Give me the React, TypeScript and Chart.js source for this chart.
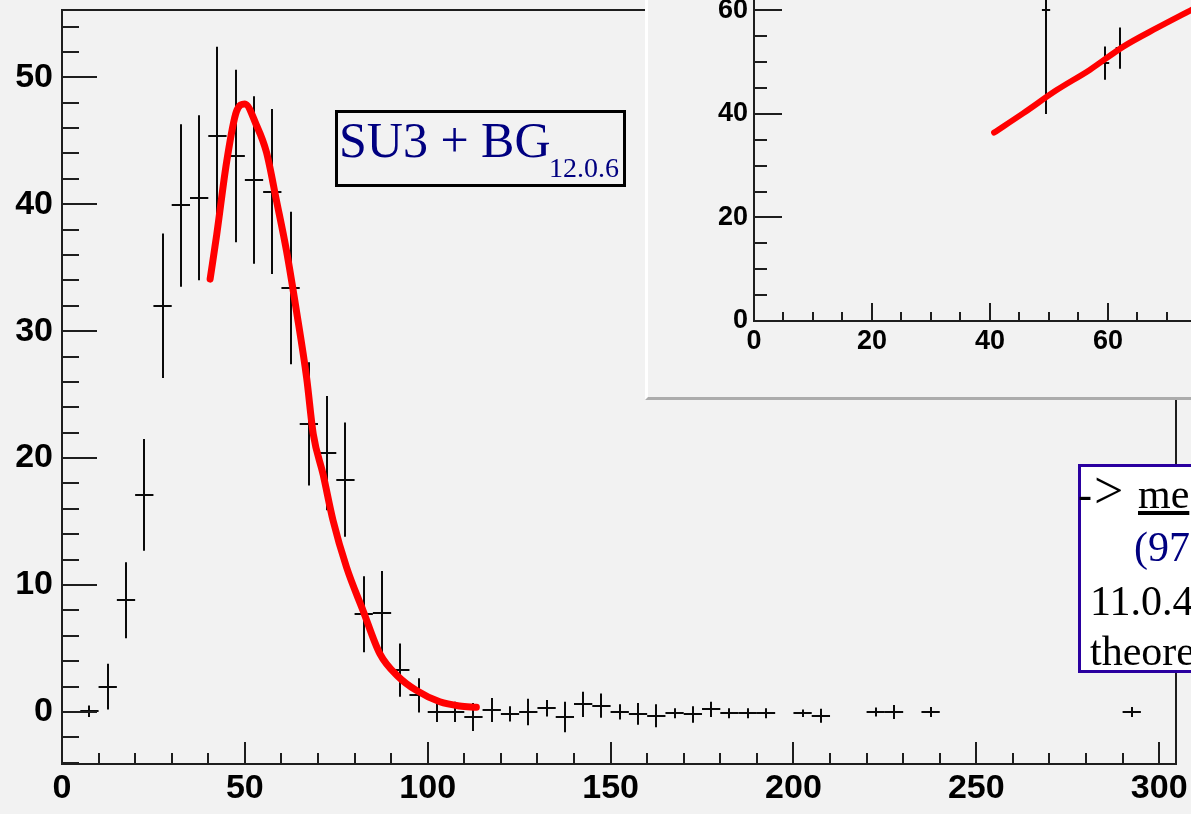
import React, { useEffect, useRef } from "react";
import { Chart, registerables } from "chart.js";

Chart.register(...registerables);

// ---------------- Main histogram data ----------------
const mainBinCenters = [
  7.5, 12.5, 17.5, 22.5, 27.5, 32.5, 37.5, 42.5, 47.5, 52.5, 57.5, 62.5, 67.5, 72.5, 77.5, 82.5, 87.5, 92.5, 97.5,
  102.5, 107.5, 112.5, 117.5, 122.5, 127.5, 132.5, 137.5, 142.5, 147.5, 152.5, 157.5, 162.5, 167.5, 172.5, 177.5,
  182.5, 187.5, 192.5, 202.5, 207.5, 222.5, 227.5, 237.5, 292.5,
];
const mainCounts = [
  0.05, 2.0, 8.8, 17.1, 32.0, 39.9, 40.5, 45.4, 43.8, 41.9, 41.0, 33.4, 22.7, 20.4, 18.3, 7.7, 7.8, 3.3, 1.3,
  0, 0, -0.4, 0.15, -0.15, 0, 0.3, -0.4, 0.6, 0.5, 0, -0.15, -0.3, -0.1, -0.2, 0.2,
  -0.1, -0.1, -0.1, -0.1, -0.3, 0, 0, 0, 0,
];
const mainErrors = [
  0.45, 1.8, 3.0, 4.4, 5.7, 6.4, 6.5, 7.0, 6.8, 6.6, 6.5, 6.0, 4.85, 4.5, 4.5, 3.0, 3.3, 2.1, 1.35,
  0.8, 0.8, 1.1, 0.95, 0.6, 1.05, 0.65, 1.2, 1.0, 0.95, 0.6, 0.85, 0.9, 0.4, 0.65, 0.6,
  0.4, 0.4, 0.4, 0.3, 0.55, 0.35, 0.55, 0.4, 0.4,
];
const mainBinHalfWidth = 2.5;

const mainFitX = [40.5, 42.3, 45, 47.7, 50, 53.2, 55.9, 58.7, 61.4, 64.1, 66.9, 68.7, 71.4, 74.1, 77.8, 82.3, 86.9, 91.9, 96.9, 103.3, 108.7, 113.3];
const mainFitY = [34.1, 37.6, 43.3, 47.3, 47.9, 46.2, 44.1, 40.2, 36.3, 31.6, 26.3, 21.9, 18.7, 15.1, 11.4, 8.0, 4.6, 2.8, 1.7, 0.8, 0.47, 0.37];

const mainXTicks = [0, 50, 100, 150, 200, 250, 300];
const mainXMinor = [10, 20, 30, 40, 60, 70, 80, 90, 110, 120, 130, 140, 160, 170, 180, 190, 210, 220, 230, 240, 260, 270, 280, 290];
const mainYTicks = [0, 10, 20, 30, 40, 50];
const mainYMinor = [-4, -2, 2, 4, 6, 8, 12, 14, 16, 18, 22, 24, 26, 28, 32, 34, 36, 38, 42, 44, 46, 48, 52, 54];

// ---------------- Inset data ----------------
const insetBinCenters = [49.5, 59.5, 62.0];
const insetCounts = [60.0, 49.8, 52.7];
const insetErrors = [20.0, 3.2, 4.0];
const insetBinHalfWidth = 0.7;

const insetFitX = [40.7, 45.6, 51.3, 56.9, 62.6, 68.3, 74.5];
const insetFitY = [36.4, 40.1, 44.6, 48.5, 53.0, 56.6, 60.3];

const insetXTicks = [0, 20, 40, 60];
const insetXMinor = [5, 10, 15, 25, 30, 35, 45, 50, 55, 65, 70];
const insetYTicks = [0, 20, 40, 60];
const insetYMinor = [5, 10, 15, 25, 30, 35, 45, 50, 55];

const SANS = '"Liberation Sans", Arial, Helvetica, sans-serif';
const SERIF = '"Liberation Serif", "DejaVu Serif", serif';
const BG = "#f2f2f2";

type AxisCfg = {
  xMajor: number[]; xMinor: number[]; yMajor: number[]; yMinor: number[];
  xMajLen: number; xMinLen: number; yMajLen: number; yMinLen: number;
  frame: string[];
  px: number[]; py: number[]; pe: number[]; hw: number;
};

function rootPlugin(cfg: AxisCfg) {
  return {
    id: "rootStyle",
    beforeDatasetsDraw(chart: any) {
      const { ctx, chartArea: a, scales } = chart;
      const x = scales.x, y = scales.y;
      ctx.save();
      ctx.beginPath();
      ctx.rect(a.left, a.top, a.right - a.left, a.bottom - a.top);
      ctx.clip();
      ctx.strokeStyle = "#0a0a0a";
      ctx.lineWidth = 2;
      for (let i = 0; i < cfg.px.length; i++) {
        const cx = cfg.px[i], cy = cfg.py[i], e = cfg.pe[i];
        const p = Math.round(x.getPixelForValue(cx));
        const q = Math.round(y.getPixelForValue(cy));
        const l = x.getPixelForValue(cx - cfg.hw);
        const r = x.getPixelForValue(cx + cfg.hw);
        const t = y.getPixelForValue(cy + e);
        const b = y.getPixelForValue(cy - e);
        ctx.beginPath();
        ctx.moveTo(l, q);
        ctx.lineTo(r, q);
        ctx.moveTo(p, t);
        ctx.lineTo(p, b);
        ctx.stroke();
      }
      ctx.restore();
    },
    afterDatasetsDraw(chart: any) {
      const { ctx, chartArea: a, scales } = chart;
      const x = scales.x, y = scales.y;
      ctx.save();
      ctx.strokeStyle = "#1e1e1e";
      ctx.lineWidth = 2;
      ctx.beginPath();
      const tickY = (vals: number[], len: number) => {
        vals.forEach((v) => {
          const q = Math.round(y.getPixelForValue(v));
          if (q < a.top - 1 || q > a.bottom + 1) return;
          ctx.moveTo(a.left, q);
          ctx.lineTo(a.left + len, q);
        });
      };
      const tickX = (vals: number[], len: number) => {
        vals.forEach((v) => {
          const p = Math.round(x.getPixelForValue(v));
          if (p < a.left - 1 || p > a.right + 1) return;
          ctx.moveTo(p, a.bottom);
          ctx.lineTo(p, a.bottom - len);
        });
      };
      tickY(cfg.yMajor, cfg.yMajLen);
      tickY(cfg.yMinor, cfg.yMinLen);
      tickX(cfg.xMajor, cfg.xMajLen);
      tickX(cfg.xMinor, cfg.xMinLen);
      ctx.stroke();
      ctx.beginPath();
      if (cfg.frame.includes("left")) { ctx.moveTo(a.left, a.top); ctx.lineTo(a.left, a.bottom + 1); }
      if (cfg.frame.includes("bottom")) { ctx.moveTo(a.left - 1, a.bottom); ctx.lineTo(a.right + 1, a.bottom); }
      if (cfg.frame.includes("top")) { ctx.moveTo(a.left - 1, a.top); ctx.lineTo(a.right + 1, a.top); }
      if (cfg.frame.includes("right")) { ctx.moveTo(a.right, a.top); ctx.lineTo(a.right, a.bottom + 1); }
      ctx.stroke();
      ctx.restore();
    },
  };
}

function makeOptions(o: {
  xMin: number; xMax: number; yMin: number; yMax: number; xTicks: number[]; yTicks: number[];
  yWidth: number; xHeight: number; padTop: number; padRight: number; fontSize: number; yPad: number; xPad: number;
}) {
  const font = { family: SANS, size: o.fontSize, weight: "bold" as const };
  return {
    animation: false as const,
    responsive: false,
    maintainAspectRatio: false,
    events: [] as any[],
    layout: { autoPadding: false, padding: { left: 0, top: o.padTop, right: o.padRight, bottom: 0 } },
    plugins: { legend: { display: false }, tooltip: { enabled: false }, title: { display: false } },
    scales: {
      x: {
        type: "linear" as const,
        min: o.xMin,
        max: o.xMax,
        afterBuildTicks: (s: any) => { s.ticks = o.xTicks.map((v) => ({ value: v })); },
        afterFit: (s: any) => { s.height = o.xHeight; s.paddingLeft = 0; s.paddingRight = 0; },
        grid: { display: false, drawTicks: false },
        border: { display: false },
        ticks: { font, color: "#000", padding: o.xPad, maxRotation: 0, autoSkip: false },
      },
      y: {
        type: "linear" as const,
        min: o.yMin,
        max: o.yMax,
        afterBuildTicks: (s: any) => { s.ticks = o.yTicks.map((v) => ({ value: v })); },
        afterFit: (s: any) => { s.width = o.yWidth; s.paddingTop = 0; s.paddingBottom = 0; },
        grid: { display: false, drawTicks: false },
        border: { display: false },
        ticks: { font, color: "#000", padding: o.yPad, autoSkip: false },
      },
    },
  };
}

function MainChart() {
  const ref = useRef<HTMLCanvasElement>(null);
  useEffect(() => {
    if (!ref.current) return;
    const chart = new Chart(ref.current, {
      type: "scatter",
      data: {
        datasets: [
          {
            label: "fit",
            data: mainFitX.map((v, i) => ({ x: v, y: mainFitY[i] })),
            showLine: true,
            borderColor: "#ff0000",
            borderWidth: 7,
            pointRadius: 0,
            cubicInterpolationMode: "monotone",
            borderCapStyle: "round",
            borderJoinStyle: "round",
            fill: false,
            order: 0,
          } as any,
          {
            label: "data",
            data: mainBinCenters.map((v, i) => ({ x: v, y: mainCounts[i] })),
            pointRadius: 0,
            order: 1,
          },
        ],
      },
      options: makeOptions({
        xMin: 0, xMax: 304.6, yMin: -4.1, yMax: 55.3,
        xTicks: mainXTicks, yTicks: mainYTicks,
        yWidth: 62, xHeight: 50, padTop: 10, padRight: 15, fontSize: 34, yPad: 9, xPad: 4,
      }) as any,
      plugins: [
        rootPlugin({
          xMajor: mainXTicks, xMinor: mainXMinor, yMajor: mainYTicks, yMinor: mainYMinor,
          xMajLen: 22, xMinLen: 11, yMajLen: 35, yMinLen: 17,
          frame: ["left", "bottom", "top", "right"],
          px: mainBinCenters, py: mainCounts, pe: mainErrors, hw: mainBinHalfWidth,
        }),
      ],
    });
    return () => chart.destroy();
  }, []);
  return <canvas ref={ref} width={1191} height={814} style={{ position: "absolute", left: 0, top: 0, width: 1191, height: 814 }} />;
}

function InsetChart() {
  const ref = useRef<HTMLCanvasElement>(null);
  useEffect(() => {
    if (!ref.current) return;
    const chart = new Chart(ref.current, {
      type: "scatter",
      data: {
        datasets: [
          {
            label: "fit",
            data: insetFitX.map((v, i) => ({ x: v, y: insetFitY[i] })),
            showLine: true,
            borderColor: "#ff0000",
            borderWidth: 6,
            pointRadius: 0,
            cubicInterpolationMode: "monotone",
            borderCapStyle: "round",
            fill: false,
            order: 0,
          } as any,
          {
            label: "data",
            data: insetBinCenters.map((v, i) => ({ x: v, y: insetCounts[i] })),
            pointRadius: 0,
            order: 1,
          },
        ],
      },
      options: makeOptions({
        xMin: 0, xMax: 74.07, yMin: 0, yMax: 62.0,
        xTicks: insetXTicks, yTicks: insetYTicks,
        yWidth: 106, xHeight: 76, padTop: 0, padRight: 0, fontSize: 27, yPad: 6, xPad: 4,
      }) as any,
      plugins: [
        rootPlugin({
          xMajor: insetXTicks, xMinor: insetXMinor, yMajor: insetYTicks, yMinor: insetYMinor,
          xMajLen: 18, xMinLen: 9, yMajLen: 28, yMinLen: 13,
          frame: ["left", "bottom"],
          px: insetBinCenters, py: insetCounts, pe: insetErrors, hw: insetBinHalfWidth,
        }),
      ],
    });
    return () => chart.destroy();
  }, []);
  return <canvas ref={ref} width={543} height={397} style={{ position: "absolute", left: 0, top: 0, width: 543, height: 397 }} />;
}

const abs = (left: number, top: number, size: number, color: string, extra: any = {}) => ({
  position: "absolute" as const,
  left,
  top,
  fontFamily: SERIF,
  fontSize: size,
  lineHeight: `${size}px`,
  color,
  whiteSpace: "nowrap" as const,
  ...extra,
});

export default function App() {
  return (
    <div style={{ position: "fixed", left: 0, top: 0, width: 1191, height: 814, overflow: "hidden", background: BG }}>
      <MainChart />
      {/* SU3 label box */}
      <div style={{ position: "absolute", left: 335, top: 110, width: 291, height: 77, border: "3px solid #000", boxSizing: "border-box" }} />
      <span style={abs(339, 115, 50, "#000080")}>SU3 + BG</span>
      <span style={abs(549, 153.5, 28, "#000080")}>12.0.6</span>
      {/* Inset panel */}
      <div
        style={{
          position: "absolute", left: 645, top: -3, width: 560, height: 403, background: BG,
          borderLeft: "3px solid #ffffff", borderBottom: "3px solid #acacac", boxSizing: "border-box",
        }}
      >
        <div style={{ position: "absolute", left: 0, top: 3, width: 543, height: 397 }}>
          <InsetChart />
        </div>
      </div>
      {/* Right text box */}
      <div style={{ position: "absolute", left: 1078, top: 464, width: 320, height: 209, border: "3px solid #2a00a0", background: "#fff", boxSizing: "border-box" }} />
      <span style={abs(1078, 473, 42, "#000")}>-</span>
      <span style={abs(1094, 464.5, 52, "#000")}>&gt;</span>
      <span style={abs(1138, 473, 42, "#000", { textDecoration: "underline" })}>me</span>
      <span style={abs(1134, 526, 42, "#000080")}>(97</span>
      <span style={abs(1090, 580, 42, "#000")}>11.0.4</span>
      <span style={abs(1090, 630, 42, "#000")}>theore</span>
    </div>
  );
}
